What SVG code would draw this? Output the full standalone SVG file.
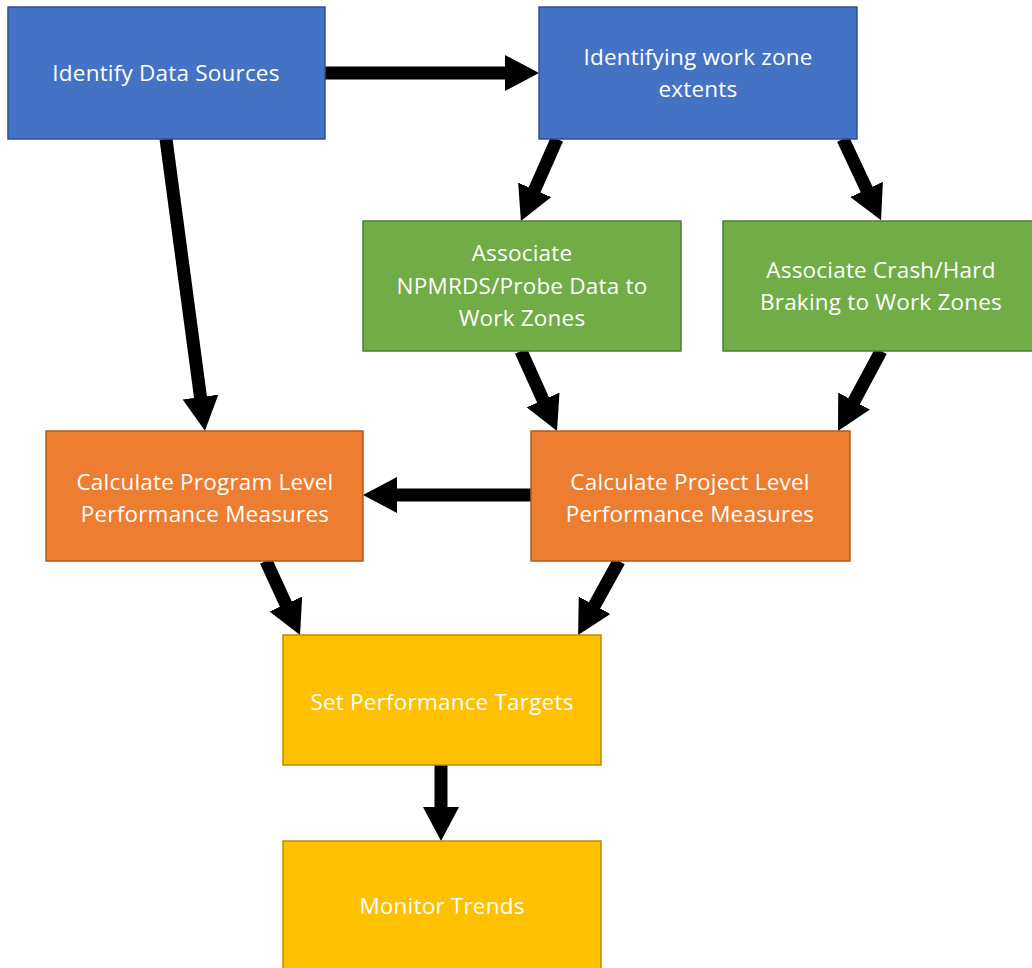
<svg xmlns="http://www.w3.org/2000/svg" width="1032" height="968" viewBox="0 0 1032 968">
<defs>
<style>
.box{stroke-width:1.5}
.blue{fill:#4472C4;stroke:#2F528F}
.green{fill:#70AD47;stroke:#507E32}
.orange{fill:#ED7D31;stroke:#AE5A21}
.yellow{fill:#FFC000;stroke:#BC8C00}
text{font-family:"Open Sans","Liberation Sans",sans-serif;font-size:22.5px;fill:#FFFFFF;text-anchor:middle;letter-spacing:0.2px}
.conn{fill:none;stroke:#000000;stroke-width:13;marker-end:url(#head)}
</style>
<marker id="head" markerUnits="userSpaceOnUse" markerWidth="36" markerHeight="38" refX="4" refY="18" orient="auto">
<path d="M0,0 L34,18 L0,36 Z" fill="#000000"/>
</marker>
</defs>
<rect width="1032" height="968" fill="#FFFFFF"/>
<g id="connectors">
<path class="conn" d="M325,73 L509,73"/>
<path class="conn" d="M166,139 L201,401"/>
<path class="conn" d="M557,139 L533,193.5"/>
<path class="conn" d="M843,139 L868.3,193"/>
<path class="conn" d="M521,351 L544.7,403.6"/>
<path class="conn" d="M881,351 L852.2,404.6"/>
<path class="conn" d="M531,495 L393,495"/>
<path class="conn" d="M266,561 L287.5,607.7"/>
<path class="conn" d="M619,561 L592.6,608.8"/>
<path class="conn" d="M441,765 L441,811"/>
</g>
<g id="identify-data-sources">
<rect class="box blue" x="8" y="7" width="317" height="132"/>
<text x="166" y="81">Identify Data Sources</text>
</g>
<g id="identifying-work-zone-extents">
<rect class="box blue" x="539" y="7" width="318" height="132"/>
<text x="698" y="65">Identifying work zone</text>
<text x="698" y="97">extents</text>
</g>
<g id="associate-npmrds">
<rect class="box green" x="363" y="221" width="318" height="130"/>
<text x="522" y="261">Associate</text>
<text x="522" y="294">NPMRDS/Probe Data to</text>
<text x="522" y="326">Work Zones</text>
</g>
<g id="associate-crash">
<rect class="box green" x="723" y="221" width="318" height="130"/>
<text x="881" y="278">Associate Crash/Hard</text>
<text x="881" y="310">Braking to Work Zones</text>
</g>
<g id="calc-program">
<rect class="box orange" x="46" y="431" width="317" height="130"/>
<text x="205" y="490">Calculate Program Level</text>
<text x="205" y="522">Performance Measures</text>
</g>
<g id="calc-project">
<rect class="box orange" x="531" y="431" width="319" height="130"/>
<text x="690" y="490">Calculate Project Level</text>
<text x="690" y="522">Performance Measures</text>
</g>
<g id="set-targets">
<rect class="box yellow" x="283" y="635" width="318" height="130"/>
<text x="442" y="710">Set Performance Targets</text>
</g>
<g id="monitor-trends">
<rect class="box yellow" x="283" y="841" width="318" height="132"/>
<text x="442" y="914">Monitor Trends</text>
</g>
</svg>
